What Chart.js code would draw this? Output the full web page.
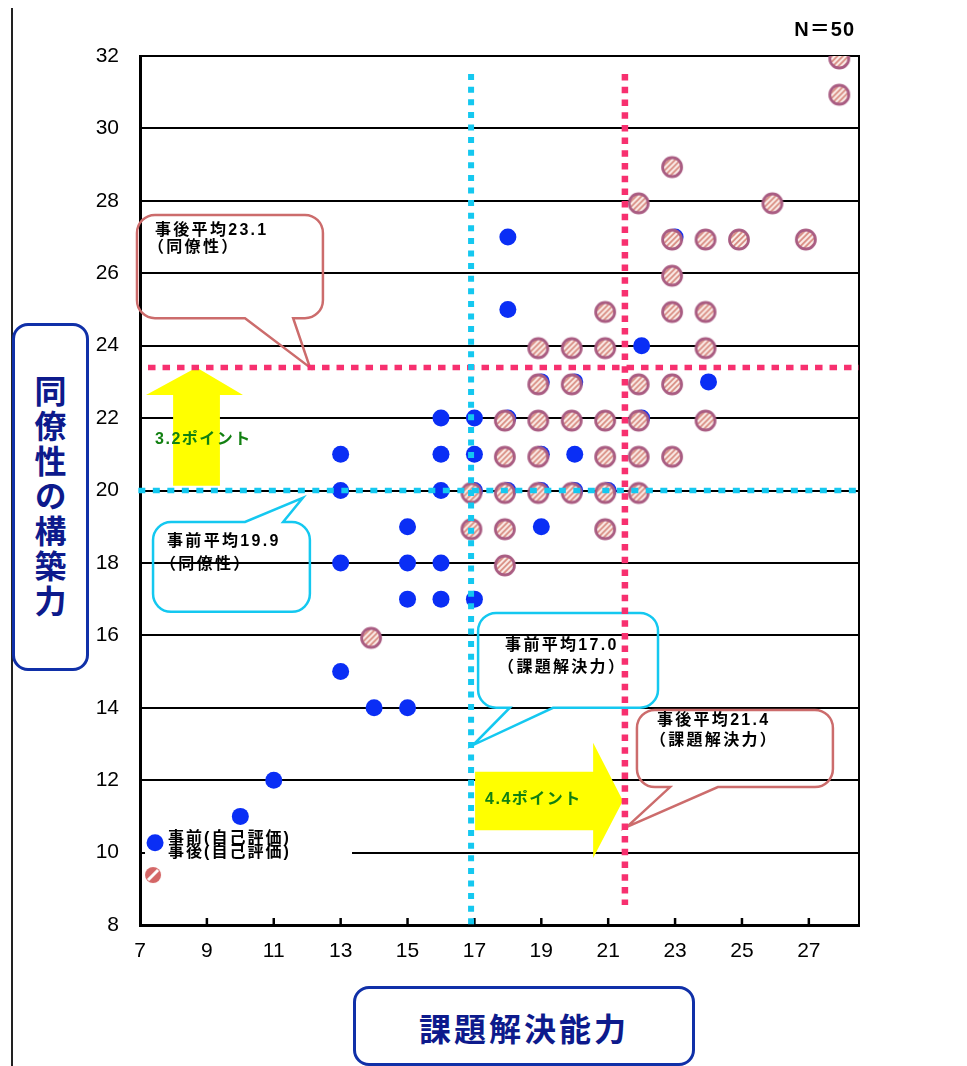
<!DOCTYPE html>
<html lang="ja">
<head>
  <meta charset="UTF-8">
  <title>課題解決能力と同僚性の構築力</title>
  <script src="https://cdn.jsdelivr.net/npm/chart.js"></script>
  <style>
    html, body { margin: 0; padding: 0; background: #fff; overflow: hidden; }
    #wrap { position: relative; width: 967px; height: 1066px; }
    #chart { position: absolute; left: 0; top: 0; }
    .edge { position: absolute; left: 11px; top: 8px; width: 2px; height: 1060px; background: #222; }
    .ytitle, .xtitle {
      position: absolute;
      box-sizing: border-box;
      border: 3px solid #1030a8;
      border-radius: 16px;
      background: #fff;
      color: #0d1a8c;
      font-family: 'Noto Sans CJK JP', sans-serif;
      font-weight: bold;
      font-size: 32px;
      display: flex;
      align-items: center;
      justify-content: center;
    }
    .ytitle {
      left: 12px; top: 323px; width: 77px; height: 348px;
      writing-mode: vertical-rl; text-orientation: upright;
      letter-spacing: 3px; line-height: 1;
    }
    .xtitle {
      left: 353px; top: 986px; width: 342px; height: 80px;
      letter-spacing: 3px; padding-top: 2px;
    }
  </style>
</head>
<body>
<div id="wrap">
  <canvas id="chart" width="967" height="1066"></canvas>
  <div class="edge"></div>
  <div class="ytitle">同僚性の構築力</div>
  <div class="xtitle">課題解決能力</div>
</div>

<script>
  // 事前(自己評価): 課題解決能力 / 同僚性の構築力
  const preSkill = [10, 11, 13, 13, 13, 13, 14, 15, 15, 15, 15, 16, 16, 16, 16, 16, 17, 17, 17, 17,
                    18, 18, 18, 18, 19, 19, 19, 19, 20, 20, 20, 21, 22, 22, 23, 24];
  const preCollegiality = [11, 12, 15, 18, 20, 21, 14, 14, 17, 18, 19, 17, 18, 20, 21, 22, 17, 20, 21, 22,
                           20, 22, 25, 27, 19, 20, 21, 23, 20, 21, 23, 20, 22, 24, 27, 23];

  // 事後(自己評価)
  const postSkill = [14, 17, 17, 18, 18, 18, 18, 18, 19, 19, 19, 19, 19, 20, 20, 20, 20,
                     21, 21, 21, 21, 21, 21, 22, 22, 22, 22, 22, 23, 23, 23, 23, 23, 23,
                     24, 24, 24, 24, 25, 26, 27, 28, 28];
  const postCollegiality = [16, 19, 20, 18, 19, 20, 21, 22, 20, 21, 22, 23, 24, 20, 22, 23, 24,
                            19, 20, 21, 22, 24, 25, 20, 21, 22, 23, 28, 21, 23, 25, 26, 27, 29,
                            22, 24, 25, 27, 27, 28, 27, 31, 32];

  const seriesLabels = ['事前(自己評価)', '事後(自己評価)'];

  // mean lines as drawn in the picture
  const preMeanSkill = 16.9;
  const postMeanSkill = 21.5;
  const preMeanCollegiality = 20.0;
  const postMeanCollegiality = 23.4;

  const xTicks = [7, 9, 11, 13, 15, 17, 19, 21, 23, 25, 27];
  const yTicks = [8, 10, 12, 14, 16, 18, 20, 22, 24, 26, 28, 30, 32];

  const calloutLines = [
    ['事後平均23.1', '（同僚性）'],
    ['事前平均19.9', '（同僚性）'],
    ['事前平均17.0', '（課題解決力）'],
    ['事後平均21.4', '（課題解決力）']
  ];
  const gainLabels = ['3.2ポイント', '4.4ポイント'];
  const sampleLabel = 'N＝50';

  const toPoints = (xs, ys) => xs.map((v, i) => ({ x: v, y: ys[i] }));

  const CYAN = '#14c8f0';
  const PINK = '#f7306f';
  const BROWN = '#cc6c6c';

  // hatched marker for 事後 (drawn a little off-centre, like the original)
  function makeHatch(dx, dy) {
    const c = document.createElement('canvas');
    c.width = 30; c.height = 30;
    const g = c.getContext('2d');
    const cx = 15 + dx, cy = 15 + dy, r = 9.5;
    g.save();
    g.beginPath(); g.arc(cx, cy, r, 0, Math.PI * 2);
    g.fillStyle = '#d98d82'; g.fill();
    g.clip();
    g.strokeStyle = '#fbeeea'; g.lineWidth = 2;
    for (let k = -18; k <= 18; k += 5.5) {
      g.beginPath(); g.moveTo(cx - 12 + k, cy + 12); g.lineTo(cx + 12 + k, cy - 12); g.stroke();
    }
    g.restore();
    g.beginPath(); g.arc(cx, cy, r, 0, Math.PI * 2);
    g.strokeStyle = '#a95c82'; g.lineWidth = 2.8; g.stroke();
    return c;
  }
  function makeLegendHatch() {
    const c = document.createElement('canvas');
    c.width = 20; c.height = 20;
    const g = c.getContext('2d');
    g.beginPath(); g.arc(10, 10, 8, 0, Math.PI * 2);
    g.fillStyle = '#d46666'; g.fill();
    g.strokeStyle = '#fff'; g.lineWidth = 3;
    g.beginPath(); g.moveTo(5, 15); g.lineTo(15, 5); g.stroke();
    return c;
  }
  const hatchImg = makeHatch(-3, 2.5);
  const legendHatchImg = makeLegendHatch();

  function drawCallout(ctx, X, Y, c, lines) {
    const l = X(c.box[0]), r = X(c.box[1]), t = Y(c.box[2]), b = Y(c.box[3]);
    const a1 = X(c.tail[0]), a2 = X(c.tail[1]), tx = X(c.tip[0]), ty = Y(c.tip[1]);
    const rad = 18;
    ctx.beginPath();
    ctx.moveTo(l + rad, t);
    if (c.side === 'top') { ctx.lineTo(a1, t); ctx.lineTo(tx, ty); ctx.lineTo(a2, t); }
    ctx.lineTo(r - rad, t);
    ctx.arcTo(r, t, r, t + rad, rad);
    ctx.lineTo(r, b - rad);
    ctx.arcTo(r, b, r - rad, b, rad);
    if (c.side === 'bottom') { ctx.lineTo(a2, b); ctx.lineTo(tx, ty); ctx.lineTo(a1, b); }
    ctx.lineTo(l + rad, b);
    ctx.arcTo(l, b, l, b - rad, rad);
    ctx.lineTo(l, t + rad);
    ctx.arcTo(l, t, l + rad, t, rad);
    ctx.closePath();
    ctx.strokeStyle = c.color;
    ctx.lineWidth = 2.5;
    ctx.stroke();

    ctx.fillStyle = '#000';
    ctx.font = "bold 16px 'Liberation Sans', 'Noto Sans CJK JP'";
    ctx.letterSpacing = '2.3px';
    ctx.textAlign = 'left';
    ctx.textBaseline = 'middle';
    ctx.fillText(lines[0], l + c.text[0], t + c.text[1]);
    ctx.fillText(lines[1], l + c.text[0] - 7, t + c.text[2]);
  }

  const annotations = {
    id: 'annotations',
    beforeDatasetsDraw(chart) {
      const { ctx, chartArea, scales: { x, y } } = chart;
      const X = v => x.getPixelForValue(v);
      const Y = v => y.getPixelForValue(v);
      ctx.save();

      // inward tick marks on the x axis
      ctx.strokeStyle = '#000';
      ctx.lineWidth = 2.5;
      xTicks.slice(1).forEach(v => {
        const p = X(v);
        ctx.beginPath(); ctx.moveTo(p, chartArea.bottom); ctx.lineTo(p, chartArea.bottom - 7); ctx.stroke();
      });

      // yellow gain arrows
      ctx.fillStyle = '#ffff00';
      ctx.beginPath();
      ctx.moveTo(X(7.99), Y(20.13)); ctx.lineTo(X(9.39), Y(20.13)); ctx.lineTo(X(9.39), Y(22.64));
      ctx.lineTo(X(10.08), Y(22.64)); ctx.lineTo(X(8.69), Y(postMeanCollegiality));
      ctx.lineTo(X(7.18), Y(22.64)); ctx.lineTo(X(7.99), Y(22.64));
      ctx.closePath(); ctx.fill();

      ctx.beginPath();
      ctx.moveTo(X(17.02), Y(12.23)); ctx.lineTo(X(20.55), Y(12.23)); ctx.lineTo(X(20.55), Y(13.03));
      ctx.lineTo(X(21.44), Y(11.43)); ctx.lineTo(X(20.55), Y(9.85)); ctx.lineTo(X(20.55), Y(10.62));
      ctx.lineTo(X(17.02), Y(10.62));
      ctx.closePath(); ctx.fill();

      ctx.fillStyle = '#128012';
      ctx.font = "bold 16px 'Liberation Sans', 'Noto Sans CJK JP'";
      ctx.letterSpacing = '1.5px';
      ctx.textAlign = 'left';
      ctx.textBaseline = 'middle';
      ctx.fillText(gainLabels[0], X(7.45), Y(21.4));
      ctx.fillText(gainLabels[1], X(17.32), Y(11.45));

      // speech-bubble callouts
      const callouts = [
        { box: [6.91, 12.47, 27.61, 24.76], side: 'bottom', tail: [10.14, 11.58], tip: [12.08, postMeanCollegiality], color: BROWN, text: [18, 16, 33] },
        { box: [7.39, 12.08, 19.13, 16.65], side: 'top', tail: [10.14, 11.28], tip: [11.87, 19.8], color: CYAN, text: [14, 20, 43] },
        { box: [17.11, 22.49, 16.62, 14.0], side: 'bottom', tail: [18.06, 19.35], tip: [16.96, 12.97], color: CYAN, text: [27, 33, 55] },
        { box: [21.86, 27.72, 13.94, 11.81], side: 'bottom', tail: [22.85, 24.28], tip: [21.56, 10.71], color: BROWN, text: [20, 11, 31] }
      ];
      callouts.forEach((c, i) => drawCallout(ctx, X, Y, c, calloutLines[i]));

      ctx.restore();
    },
    afterDatasetsDraw(chart) {
      const { ctx, chartArea, scales: { x, y } } = chart;
      const X = v => x.getPixelForValue(v);
      const Y = v => y.getPixelForValue(v);
      ctx.save();

      // legend inside the plot, bottom left
      ctx.fillStyle = '#fff';
      ctx.fillRect(X(7.15), Y(10.68), X(13.34) - X(7.15), Y(9.02) - Y(10.68));
      ctx.beginPath();
      ctx.arc(X(7.45), Y(10.27), 8.5, 0, Math.PI * 2);
      ctx.fillStyle = '#0a2ef5';
      ctx.fill();
      ctx.drawImage(legendHatchImg, X(7.39) - 10, Y(9.38) - 10);
      ctx.fillStyle = '#000';
      ctx.font = "bold 16px 'Liberation Sans', 'Noto Sans CJK JP'";
      ctx.letterSpacing = '2px';
      ctx.textAlign = 'left';
      ctx.textBaseline = 'middle';
      ctx.fillText(chart.data.datasets[5].label, X(7.84), Y(10.38));
      ctx.fillText(chart.data.datasets[4].label, X(7.84), Y(9.99));

      // sample size
      ctx.font = "bold 20px 'Liberation Sans', 'Noto Sans CJK JP'";
      ctx.letterSpacing = '1px';
      ctx.textAlign = 'right';
      ctx.fillText(sampleLabel, chartArea.right - 4, chartArea.top - 26);
      ctx.restore();
    }
  };

  const meanLine = (pts, color, width, dash) => ({
    data: pts,
    showLine: true,
    borderColor: color,
    borderWidth: width,
    borderDash: dash,
    borderCapStyle: 'butt',
    pointRadius: 0,
    fill: false,
    clip: false,
    order: 0
  });

  new Chart(document.getElementById('chart'), {
    type: 'scatter',
    data: {
      datasets: [
        meanLine([{ x: preMeanSkill, y: 31.5 }, { x: preMeanSkill, y: 8 }], CYAN, 6, [6, 6.6]),
        meanLine([{ x: postMeanSkill, y: 31.5 }, { x: postMeanSkill, y: 8.55 }], PINK, 6.5, [6.5, 6.2]),
        meanLine([{ x: 6.95, y: preMeanCollegiality }, { x: 28.5, y: preMeanCollegiality }], CYAN, 5.5, [7, 7.5]),
        meanLine([{ x: 7.24, y: postMeanCollegiality }, { x: 28.5, y: postMeanCollegiality }], PINK, 5.5, [7.5, 7]),
        {
          label: seriesLabels[1],
          data: toPoints(postSkill, postCollegiality),
          pointStyle: hatchImg,
          pointRadius: 10,
          order: 1
        },
        {
          label: seriesLabels[0],
          data: toPoints(preSkill, preCollegiality),
          pointRadius: 8.5,
          backgroundColor: '#0a2ef5',
          borderWidth: 0,
          order: 2
        }
      ]
    },
    options: {
      responsive: false,
      animation: false,
      devicePixelRatio: 1,
      layout: { padding: { top: 56, left: 0, right: 0, bottom: 0 } },
      plugins: { legend: { display: false }, tooltip: { enabled: false } },
      scales: {
        x: {
          type: 'linear',
          min: 7,
          max: 28.5,
          afterBuildTicks: axis => { axis.ticks = xTicks.map(v => ({ value: v })); },
          afterFit: axis => { axis.height = 141; },
          grid: { display: false, drawTicks: false },
          border: { display: true, color: '#000', width: 3 },
          ticks: {
            padding: 14,
            color: '#000',
            font: { family: "'Liberation Sans', Arial, sans-serif", size: 21 }
          }
        },
        y: {
          type: 'linear',
          min: 8,
          max: 32,
          afterBuildTicks: axis => { axis.ticks = yTicks.map(v => ({ value: v })); },
          afterFit: axis => { axis.width = 140; },
          grid: { color: '#000', lineWidth: 2, drawTicks: false },
          border: { display: true, color: '#000', width: 3 },
          ticks: {
            padding: 21,
            color: '#000',
            font: { family: "'Liberation Sans', Arial, sans-serif", size: 21 }
          }
        },
        y2: {
          type: 'linear',
          position: 'right',
          min: 8,
          max: 32,
          afterFit: axis => { axis.width = 108; },
          grid: { display: false, drawTicks: false },
          border: { display: true, color: '#000', width: 2 },
          ticks: { display: false }
        }
      }
    },
    plugins: [annotations]
  });
</script>
</body>
</html>
